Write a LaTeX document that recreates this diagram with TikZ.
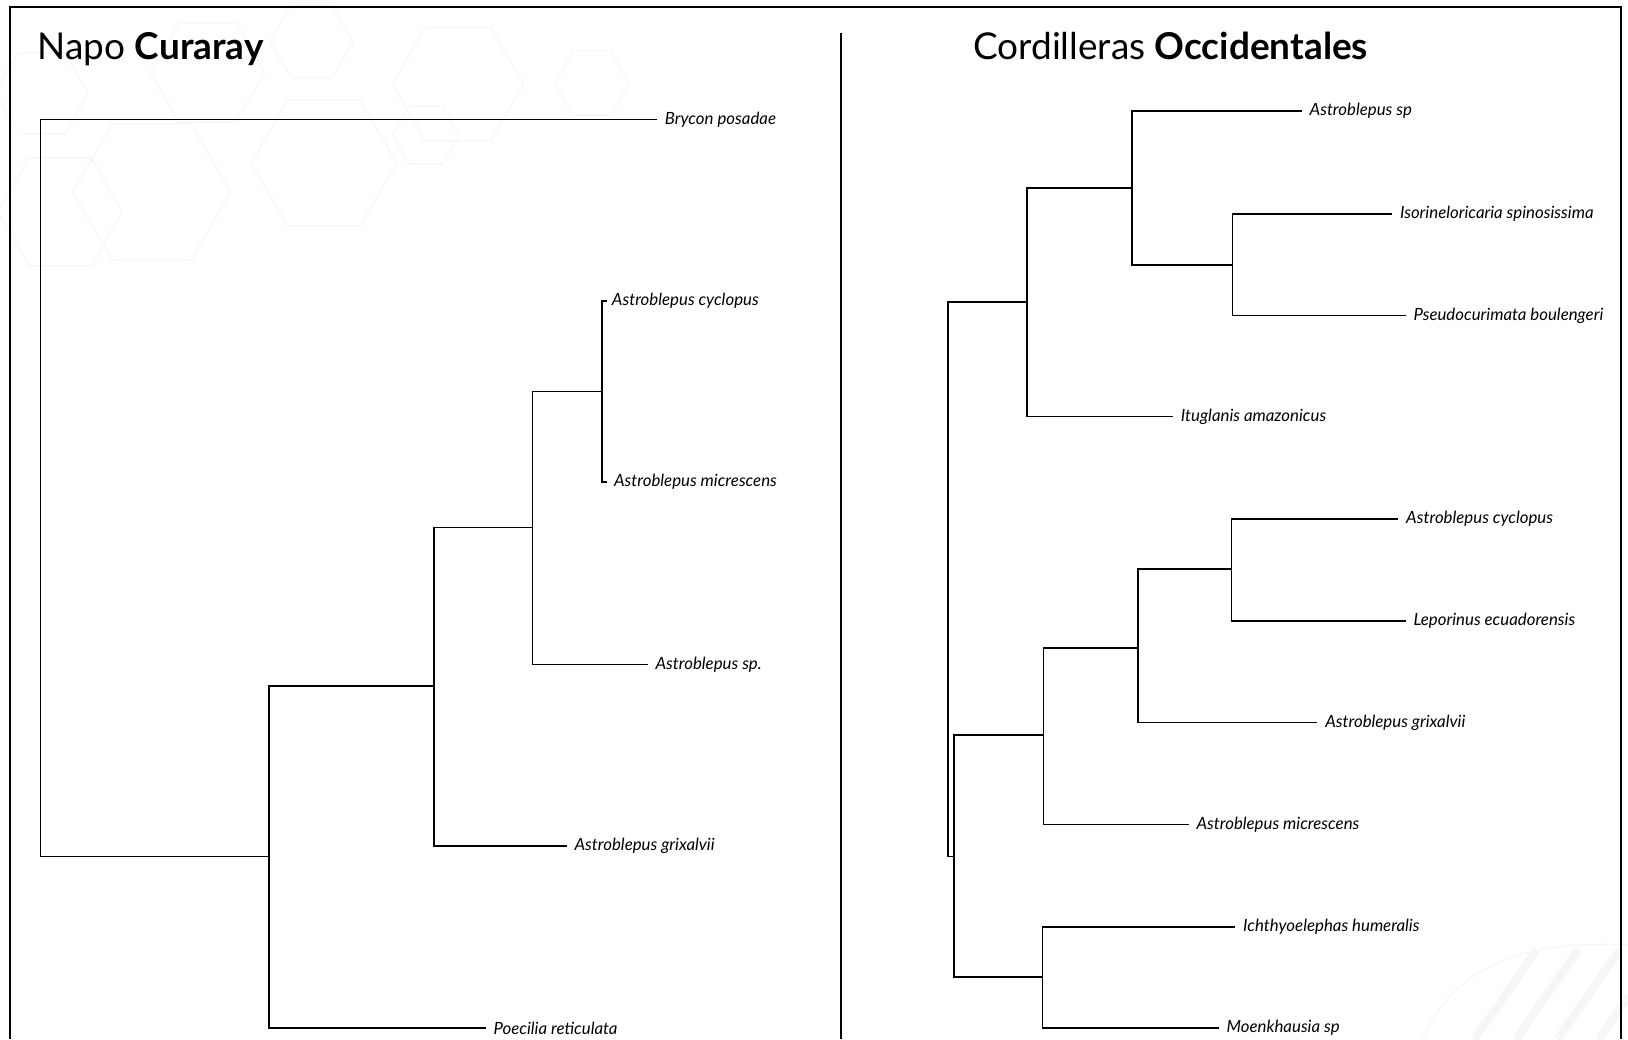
\documentclass[tikz,border=0pt]{standalone}
\usepackage{fontspec}
\setmainfont{Lato}

\tikzset{
  branch/.style={line width=0.8pt, line cap=rect},
  taxon/.style={anchor=west, inner xsep=4pt, inner ysep=0pt, font=\fontsize{8.1}{9}\selectfont\itshape},
  paneltitle/.style={anchor=base west, inner sep=0pt, font=\fontsize{17.8}{20}\selectfont},
  watermark/.style={draw=black!4, line width=0.5pt}
}

\begin{document}
\begin{tikzpicture}[x=0.5pt,y=0.5pt,yscale=-1,xscale=1]
\useasboundingbox (0,0) rectangle (1568,1001);

%Shape: faint hexagons, top left
\foreach \cx/\cy/\r in {146/185/76, 312/157/70, 441/81/63, 570/80/36, 410/130/32, 58/204/60, 200/70/55, 40/90/45, 300/40/40}{
  \draw[watermark] (\cx,\cy) ++(0:\r) -- ++(120:\r) -- ++(180:\r) -- ++(240:\r) -- ++(300:\r) -- ++(0:\r) -- cycle;
}
%Shape: faint strands, bottom right
\draw[watermark] (1370,1001) .. controls (1400,930) and (1470,905) .. (1568,910);
\foreach \dx in {0,40,80,120}{
  \draw[watermark, line width=4pt, draw=black!3] (1420+\dx,1001) -- (1480+\dx,915);
}

%Frame and divider
\draw[line width=1pt] (10,1001) -- (10,7) -- (1561,7) -- (1561,1001);
\draw[line width=1.25pt] (810,32) -- (810,1001);

%Titles
\node[paneltitle] (tleft) at (36,57) {Napo \textbf{Curaray}};
\node[paneltitle] (tright) at (937,57) {Cordilleras \textbf{Occidentales}};

%Left tree: internal nodes
\coordinate (L0) at (39,470);
\coordinate (L1) at (259,825);
\coordinate (L2) at (418,661);
\coordinate (L3) at (513,508);
\coordinate (L4) at (580,377);

%Left tree: taxa
\node[taxon, xshift=4pt] (bpos) at (624,115) {Brycon posadae};
\node[taxon, inner xsep=2.5pt] (acycA) at (584,290) {Astroblepus cyclopus};
\node[taxon, inner xsep=3.5pt] (amicA) at (584,464) {Astroblepus micrescens};
\node[taxon] (aspA) at (623,640) {Astroblepus sp.};
\node[taxon] (agrixA) at (545,815) {Astroblepus grixalvii};
\node[taxon] (pret) at (467,990) {Poecilia reticulata};

%Left tree: branches
\draw[branch] (L0) |- (bpos.west);
\draw[branch] (L0) |- (L1);
\draw[branch] (L1) |- (L2);
\draw[branch] (L1) |- (pret.west);
\draw[branch] (L2) |- (L3);
\draw[branch] (L2) |- (agrixA.west);
\draw[branch] (L3) |- (L4);
\draw[branch] (L3) |- (aspA.west);
\draw[branch] (L4) |- (acycA.west);
\draw[branch] (L4) |- (amicA.west);

%Right tree: internal nodes
\coordinate (R0) at (913,558);
\coordinate (R1) at (989,291);
\coordinate (R2) at (1090,181);
\coordinate (R3) at (1187,255);
\coordinate (R5) at (919,825);
\coordinate (R6) at (1005,708);
\coordinate (R7) at (1096,624);
\coordinate (R8) at (1186,548);
\coordinate (R9) at (1004,941);

%Right tree: taxa
\node[taxon] (aspB) at (1253,107) {Astroblepus sp};
\node[taxon] (ispi) at (1340,206) {Isorineloricaria spinosissima};
\node[taxon] (pbou) at (1353,304) {Pseudocurimata boulengeri};
\node[taxon] (iama) at (1129,401) {Ituglanis amazonicus};
\node[taxon] (acycB) at (1346,500) {Astroblepus cyclopus};
\node[taxon] (lecu) at (1353,598) {Leporinus ecuadorensis};
\node[taxon] (agrixB) at (1268,696) {Astroblepus grixalvii};
\node[taxon] (amicB) at (1144,794) {Astroblepus micrescens};
\node[taxon] (ihum) at (1189,893) {Ichthyoelephas humeralis};
\node[taxon] (moen) at (1173,990) {Moenkhausia sp};

%Right tree: branches
\draw[branch] (R0) |- (R1);
\draw[branch] (R0) |- (R5);
\draw[branch] (R1) |- (R2);
\draw[branch] (R1) |- (iama.west);
\draw[branch] (R2) |- (aspB.west);
\draw[branch] (R2) |- (R3);
\draw[branch] (R3) |- (ispi.west);
\draw[branch] (R3) |- (pbou.west);
\draw[branch] (R5) |- (R6);
\draw[branch] (R5) |- (R9);
\draw[branch] (R6) |- (R7);
\draw[branch] (R6) |- (amicB.west);
\draw[branch] (R7) |- (R8);
\draw[branch] (R7) |- (agrixB.west);
\draw[branch] (R8) |- (acycB.west);
\draw[branch] (R8) |- (lecu.west);
\draw[branch] (R9) |- (ihum.west);
\draw[branch] (R9) |- (moen.west);

\end{tikzpicture}
\end{document}
